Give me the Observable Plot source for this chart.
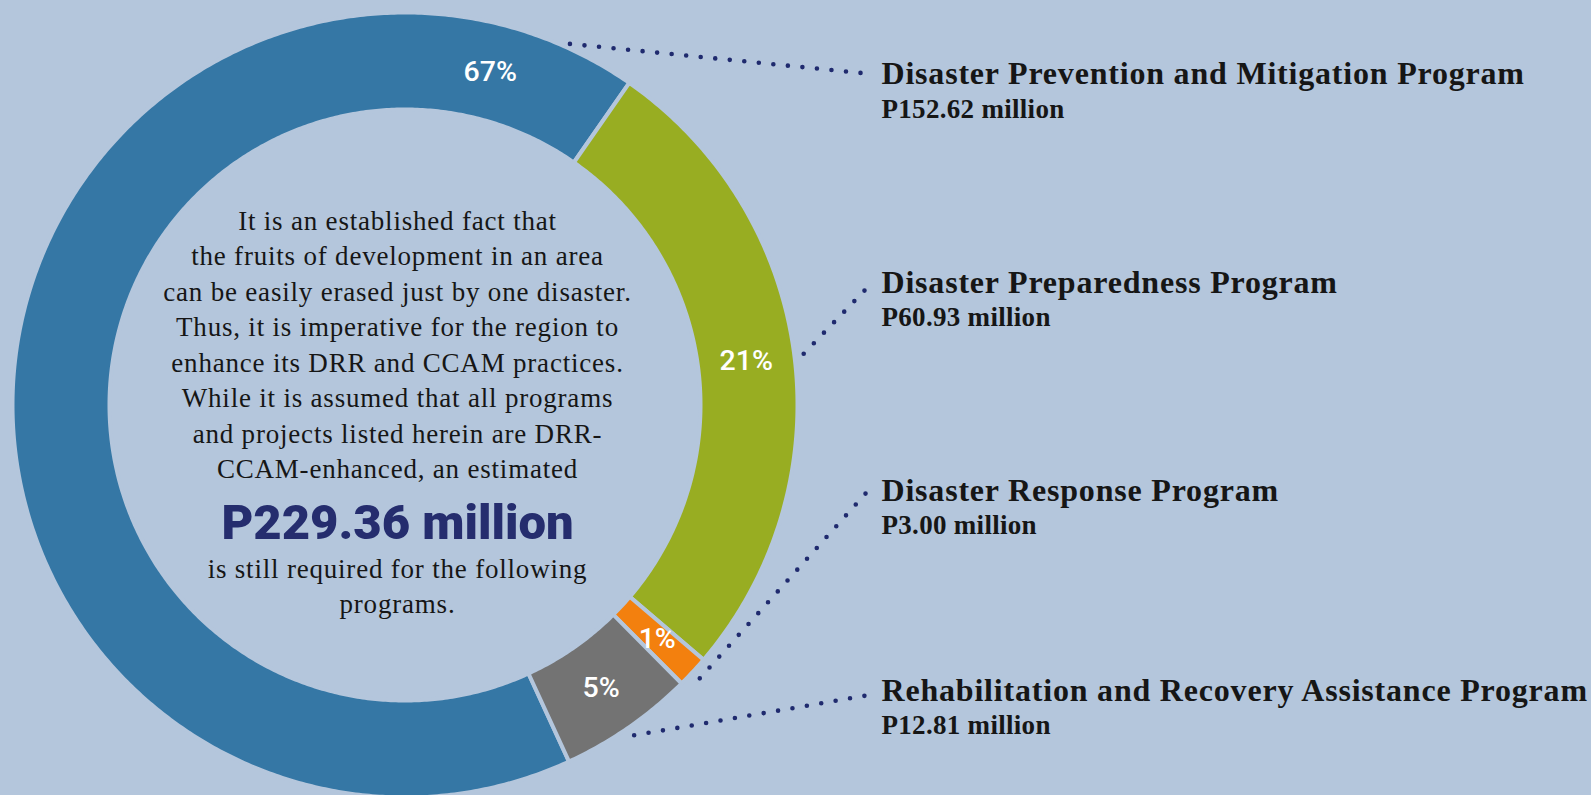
<!DOCTYPE html>
<html><head><meta charset="utf-8">
<script src="https://cdn.jsdelivr.net/npm/d3@7"></script>
<script src="https://cdn.jsdelivr.net/npm/@observablehq/plot@0.6"></script>
<style>html,body{margin:0;padding:0;background:#b4c6dc;} #chart{width:1591px;height:795px;overflow:hidden}</style>
</head><body><div id="chart"></div>
<script>
// ---- data ----
const programs = [
  "Disaster Prevention and Mitigation Program",
  "Disaster Preparedness Program",
  "Disaster Response Program",
  "Rehabilitation and Recovery Assistance Program"
];
const amounts = [152.62, 60.93, 3.00, 12.81];
const amountLabels = ["P152.62 million", "P60.93 million", "P3.00 million", "P12.81 million"];
const shareLabels = ["67%", "21%", "1%", "5%"];
const totalLabel = "P229.36 million";
const introLines = [
  "It is an established fact that",
  "the fruits of development in an area",
  "can be easily erased just by one disaster.",
  "Thus, it is imperative for the region to",
  "enhance its DRR and CCAM practices.",
  "While it is assumed that all programs",
  "and projects listed herein are DRR-",
  "CCAM-enhanced, an estimated"
];
const outroLines = ["is still required for the following", "programs."];

// ---- style / layout ----
const W = 1591, H = 795;
const BG = "#b4c6dc";
const palette = ["#3577a5", "#98ad22", "#f3800e", "#737373"];
const cx = 404.5, cy = 404.5, R0 = 392.5, R1 = 295.5;
const startDeg = 155.3;
const labelX = 881;
const headBase = [83, 292, 500, 700];
const subBase = [117, 325, 533, 733];
const leaderEndX = 866;
const leaderEndY = [73, 288, 492, 695];
const textCX = 397;

const rad = d => d * Math.PI / 180;
const pt = (a, r) => [cx + r * Math.sin(a), cy - r * Math.cos(a)];
const arcs = d3.pie().sort(null).startAngle(rad(startDeg)).endAngle(rad(startDeg + 360))(amounts);

const ring = [];
arcs.forEach((a, i) => {
  const n = Math.max(8, Math.ceil((a.endAngle - a.startAngle) / rad(0.5)));
  for (let k = 0; k <= n; k++) {
    const t = a.startAngle + (a.endAngle - a.startAngle) * k / n;
    const [x, y] = pt(t, R0); ring.push({program: programs[i], x, y});
  }
  for (let k = n; k >= 0; k--) {
    const t = a.startAngle + (a.endAngle - a.startAngle) * k / n;
    const [x, y] = pt(t, R1); ring.push({program: programs[i], x, y});
  }
});

const shares = arcs.map((a, i) => {
  const ang = i === 0 ? a.endAngle - rad(20.5) : (a.startAngle + a.endAngle) / 2;
  const [x, y] = pt(ang, (R0 + R1) / 2);
  return {text: shareLabels[i], x, y};
});

const leaders = [];
arcs.forEach((a, i) => {
  const ang = i === 0 ? a.endAngle - rad(10.3) : (a.startAngle + a.endAngle) / 2;
  const [x, y] = pt(ang, i === 0 ? 397 : 402);
  leaders.push({program: programs[i], x, y});
  leaders.push({program: programs[i], x: leaderEndX, y: leaderEndY[i]});
});

const serif = "Liberation Serif";
const chart = Plot.plot({
  width: W, height: H, margin: 0,
  style: {background: BG, overflow: "visible"},
  x: {domain: [0, W], range: [0, W], axis: null},
  y: {domain: [0, H], range: [0, H], axis: null},
  color: {domain: programs, range: palette},
  marks: [
    Plot.line(ring, {x: "x", y: "y", z: "program", fill: "program", stroke: BG, strokeWidth: 4, curve: "linear-closed"}),
    Plot.text(shares, {x: "x", y: "y", text: "text", fill: "white", fontFamily: "Roboto", fontWeight: 500, fontSize: 28.5}),
    Plot.line(leaders, {x: "x", y: "y", z: "program", stroke: "#1f2a6e", strokeWidth: 4.6, strokeDasharray: "0 14.6", strokeLinecap: "round"}),
    Plot.text(programs, {x: () => labelX, y: (d, i) => headBase[i], text: d => d, textAnchor: "start", lineAnchor: "bottom", fontFamily: serif, fontWeight: "bold", fontSize: 32, fill: "#161616"}),
    Plot.text(amountLabels, {x: () => labelX, y: (d, i) => subBase[i], text: d => d, textAnchor: "start", lineAnchor: "bottom", fontFamily: serif, fontWeight: "bold", fontSize: 27, fill: "#161616"}),
    Plot.text(introLines, {x: () => textCX, y: (d, i) => 229 + i * 35.5, text: d => d, lineAnchor: "bottom", fontFamily: serif, fontSize: 27, fill: "#161616"}),
    Plot.text([totalLabel], {x: () => textCX, y: () => 538, text: d => d, lineAnchor: "bottom", fontFamily: "Roboto", fontWeight: 900, fontSize: 49, fill: "#252d6e"}),
    Plot.text(outroLines, {x: () => textCX, y: (d, i) => 577 + i * 35, text: d => d, lineAnchor: "bottom", fontFamily: serif, fontSize: 27, fill: "#161616"})
  ]
});
const textGroups = chart.querySelectorAll('g[aria-label="text"]');
const spacing = ["0px", "0.8px", "0.3px", "0.8px", "0px", "0.8px"];
textGroups.forEach((g, i) => g.setAttribute("letter-spacing", spacing[i] || "0px"));
document.getElementById("chart").appendChild(chart);
</script>
</body></html>
